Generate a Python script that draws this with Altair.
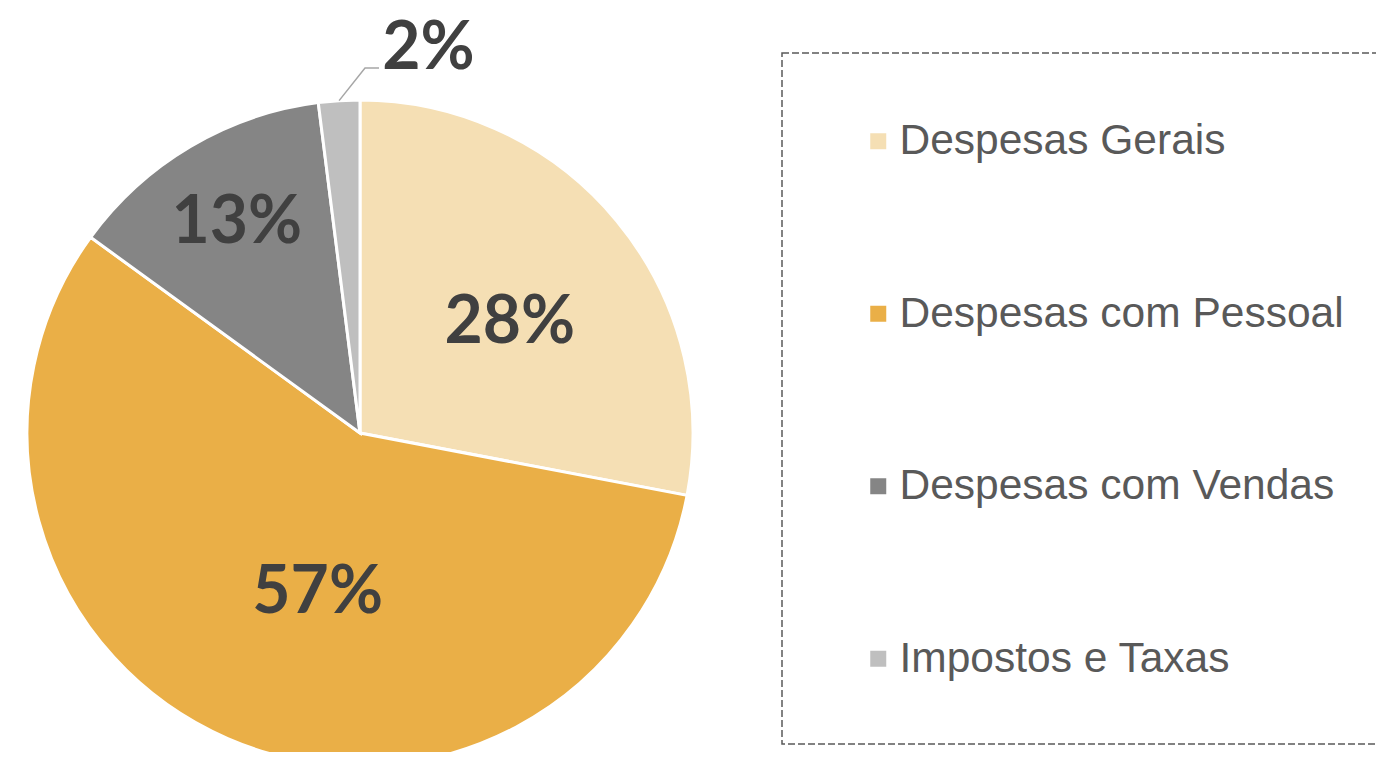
import math
import altair as alt
import pandas as pd

categories = ["Despesas Gerais", "Despesas com Pessoal", "Despesas com Vendas", "Impostos e Taxas"]
values = [28, 57, 13, 2]
colors = ["#F5DFB4", "#EAAF47", "#858585", "#BFBFBF"]
label_radius = [188, 162, 246, 390]
label_dx = [5, 22, 2, 93]
label_dy = [10, 11, 2, 5]

W, H = 1368, 744
CX, CY, R = 352, 425, 333
TOTAL = sum(values)

df = pd.DataFrame({
    "cat": categories,
    "value": values,
    "idx": list(range(len(categories))),
    "label": [f"{v}%" for v in values],
    "lr": label_radius,
})

color_scale = alt.Scale(domain=categories, range=colors)
theta_scale = alt.Scale(domain=[0, TOTAL], range=[0, 2 * math.pi])

pie = alt.Chart(df).mark_arc(outerRadius=R, stroke="white", strokeWidth=3, clip=True).encode(
    theta=alt.Theta("value:Q", stack=True, scale=theta_scale),
    order=alt.Order("idx:Q"),
    x=alt.value(CX), y=alt.value(CY),
    color=alt.Color("cat:N", scale=color_scale, sort=categories,
                    legend=alt.Legend(title=None, orient="none", legendX=849, legendY=112,
                                      labelFont="Arial", labelFontSize=42.5,
                                      labelColor="#595959", symbolType="square",
                                      symbolSize=256, symbolStrokeWidth=0, labelOffset=0,
                                      rowPadding=129.5, padding=0, labelLimit=1000)),
)

texts = []
for i, c in enumerate(categories):
    t = alt.Chart(df).transform_window(
        cum="sum(value)", sort=[alt.SortField("idx")]
    ).transform_calculate(
        mid="datum.cum - datum.value / 2"
    ).transform_filter(alt.datum.cat == c).mark_text(
        font="Lato", fontWeight="bold", fontSize=66, color="#404040",
        dx=label_dx[i], dy=label_dy[i], baseline="middle", align="center").encode(
        theta=alt.Theta("mid:Q", stack=None, scale=theta_scale),
        x=alt.value(CX), y=alt.value(CY),
        radius=alt.Radius("lr:Q", scale=None),
        text="label:N",
    )
    texts.append(t)

# leader line for the small slice, derived from pie geometry
cum = sum(values[:3]) + values[3] / 2
ang = cum / TOTAL * 2 * math.pi
sx, sy = CX + R * math.sin(ang), CY - R * math.cos(ang)
leader_df = pd.DataFrame({
    "x": [sx, CX + 5, CX + 19],
    "y": [sy, CY - 365, CY - 365],
    "o": [0, 1, 2],
})
leader = alt.Chart(leader_df).mark_line(color="#A6A6A6", strokeWidth=1.5).encode(
    x=alt.X("x:Q", scale=None), y=alt.Y("y:Q", scale=None), order="o:Q")

box_df = pd.DataFrame({"x": [774], "x2": [1420], "y": [45], "y2": [736]})
box = alt.Chart(box_df).mark_rect(fill=None, stroke="#595959", strokeWidth=1.5,
                                   strokeDash=[7, 3], clip=True).encode(
    x=alt.X("x:Q", scale=None), x2="x2:Q", y=alt.Y("y:Q", scale=None), y2="y2:Q")

chart = alt.layer(pie, *texts, leader, box).properties(
    width=W, height=H, padding=0, autosize=alt.AutoSizeParams(type="none"),
).configure_view(stroke=None).resolve_scale(theta="shared")

chart.save("out.html", embed_options={"renderer": "svg", "actions": False})
